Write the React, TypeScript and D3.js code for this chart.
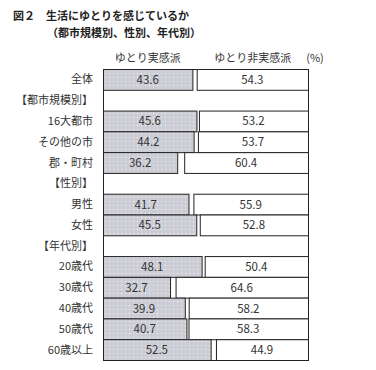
import * as d3 from "d3";

const categories = ["全体", "【都市規模別】", "16大都市", "その他の市", "郡・町村", "【性別】", "男性", "女性", "【年代別】", "20歳代", "30歳代", "40歳代", "50歳代", "60歳以上"];
const yutoriJikkan: (number | null)[] = [43.6, null, 45.6, 44.2, 36.2, null, 41.7, 45.5, null, 48.1, 32.7, 39.9, 40.7, 52.5];
const yutoriHiJikkan: (number | null)[] = [54.3, null, 53.2, 53.7, 60.4, null, 55.9, 52.8, null, 50.4, 64.6, 58.2, 58.3, 44.9];
const seriesNames = ["ゆとり実感派", "ゆとり非実感派"];

const W = 376;
const H = 370;
const left = 103;
const right = 308;
const top = 69;
const bottom = 360;
const font = "'Noto Sans CJK JP', sans-serif";

export default function App() {
  const x = d3.scaleLinear().domain([0, 100]).range([left, right]);
  const y = d3.scaleBand().domain(categories).range([top, bottom]).padding(0);
  const bh = y.bandwidth();

  return (
    <div style={{ position: "absolute", left: 0, top: 0 }}>
      <svg width={W} height={H} style={{ display: "block" }} fontFamily={font}>
        <defs>
          <pattern id="dots" width={4} height={4} patternUnits="userSpaceOnUse">
            <rect width={4} height={4} fill="#cdcdd5" />
            <rect x={1} y={1} width={1} height={1} fill="#f4f4f6" />
          </pattern>
        </defs>
        <rect width={W} height={H} fill="#fff" />
        <text x={13} y={20} fontSize={11} fontWeight="bold" fill="#222">図２　生活にゆとりを感じているか</text>
        <text x={47} y={36.5} fontSize={11} fontWeight="bold" fill="#222">（都市規模別、性別、年代別）</text>

        <text x={x(21.8)} y={62} fontSize={11} fill="#333" textAnchor="middle">{seriesNames[0]}</text>
        <text x={x(73)} y={62} fontSize={11} fill="#333" textAnchor="middle">{seriesNames[1]}</text>
        <text x={315} y={62} fontSize={11} fill="#333" textAnchor="middle">(%)</text>

        <rect x={left + 0.5} y={top + 0.5} width={right - left} height={bottom - top} fill="#fff" stroke="#222" strokeWidth={1} />

        {categories.map((c, i) => {
          const yy = y(c)!;
          const a = yutoriJikkan[i];
          const b = yutoriHiJikkan[i];
          return (
            <g key={c}>
              <text x={93} y={yy + bh / 2 + 4} fontSize={11} fill="#333" textAnchor="end">{c}</text>
              {a != null && (
                <g>
                  <rect x={x(0) + 0.5} y={yy + 0.5} width={x(a) - x(0)} height={bh} fill="url(#dots)" stroke="#222" strokeWidth={1} />
                  <text x={(x(0) + x(a)) / 2} y={yy + bh / 2 + 4.5} fontSize={11.5} fill="#333" textAnchor="middle">{a.toFixed(1)}</text>
                </g>
              )}
              {b != null && (
                <g>
                  <rect x={x(100 - b) + 0.5} y={yy + 0.5} width={x(100) - x(100 - b)} height={bh} fill="#fff" stroke="#222" strokeWidth={1} />
                  <text x={(x(100 - b) + x(100)) / 2} y={yy + bh / 2 + 4.5} fontSize={11.5} fill="#333" textAnchor="middle">{b.toFixed(1)}</text>
                </g>
              )}
            </g>
          );
        })}
      </svg>
    </div>
  );
}
